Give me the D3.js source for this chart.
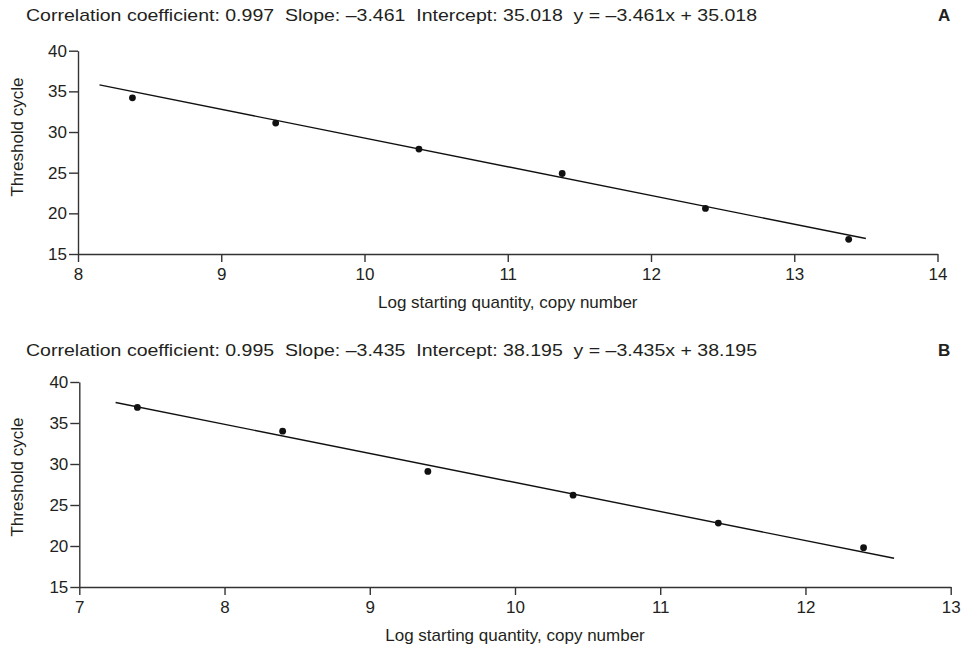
<!DOCTYPE html>
<html>
<head>
<meta charset="utf-8">
<script src="https://cdn.jsdelivr.net/npm/d3@7"></script>
<style>
  body { margin: 0; background: #fff; }
  text { font-family: "Liberation Sans", Arial, sans-serif; fill: #231f20; white-space: pre; }
</style>
</head>
<body>
<div id="main"></div>
<script>
// panel A
const xA = [8.38, 9.38, 10.38, 11.38, 12.38, 13.38];
const yA = [34.2, 31.1, 27.9, 24.9, 20.6, 16.8];
const fitXA = [8.15, 13.5];
const fitYA = [35.8, 16.9];
const ticksXA = [8, 9, 10, 11, 12, 13, 14];
const titleA = "Correlation coefficient: 0.997  Slope: \u20133.461  Intercept: 35.018  y = \u20133.461x + 35.018";

// panel B
const xB = [7.4, 8.4, 9.4, 10.4, 11.4, 12.4];
const yB = [36.9, 34.0, 29.1, 26.2, 22.8, 19.8];
const fitXB = [7.25, 12.61];
const fitYB = [37.5, 18.5];
const ticksXB = [7, 8, 9, 10, 11, 12, 13];
const titleB = "Correlation coefficient: 0.995  Slope: \u20133.435  Intercept: 38.195  y = \u20133.435x + 38.195";

const ticksY = [15, 20, 25, 30, 35, 40];
const xLabel = "Log starting quantity, copy number";
const yLabel = "Threshold cycle";

const svg = d3.select("#main").append("svg")
  .attr("width", 966)
  .attr("height", 650);

function drawPanel(opt) {
  const g = svg.append("g");
  const x = d3.scaleLinear().domain(d3.extent(opt.ticksX)).range([opt.left, opt.right]);
  const y = d3.scaleLinear().domain([15, 40]).range([opt.bottom, opt.top]);

  // title + letter
  g.append("text")
    .attr("x", 26).attr("y", opt.titleY)
    .attr("font-size", 17)
    .attr("textLength", 731).attr("lengthAdjust", "spacingAndGlyphs")
    .text(opt.title);
  g.append("text")
    .attr("x", 938).attr("y", opt.titleY)
    .attr("font-size", 17).attr("font-weight", "bold")
    .text(opt.letter);

  // axes
  const xAxis = g.append("g")
    .attr("transform", `translate(0,${opt.bottom})`)
    .call(d3.axisBottom(x).tickValues(opt.ticksX).tickFormat(d3.format("d"))
      .tickSize(8).tickSizeOuter(0).tickPadding(6));
  const yAxis = g.append("g")
    .attr("transform", `translate(${opt.left},0)`)
    .call(d3.axisLeft(y).tickValues(ticksY).tickFormat(d3.format("d"))
      .tickSize(9).tickSizeOuter(0).tickPadding(2));
  [xAxis, yAxis].forEach(a => {
    a.selectAll("path, line").attr("stroke", "#333").attr("stroke-width", 1.4);
    a.selectAll("text").attr("font-size", 17).attr("font-family", "Liberation Sans, Arial, sans-serif").attr("fill", "#231f20");
  });

  g.append("text")
    .attr("x", (opt.left + opt.right) / 2).attr("y", opt.bottom + 54)
    .attr("text-anchor", "middle").attr("font-size", 17)
    .text(xLabel);
  g.append("text")
    .attr("transform", `translate(23,${opt.labelY}) rotate(-90)`)
    .attr("text-anchor", "middle").attr("font-size", 17)
    .text(yLabel);

  // fitted line
  g.append("line")
    .attr("x1", x(opt.fitX[0])).attr("y1", y(opt.fitY[0]))
    .attr("x2", x(opt.fitX[1])).attr("y2", y(opt.fitY[1]))
    .attr("stroke", "#111").attr("stroke-width", 1.4);

  // points
  g.selectAll("circle.pt")
    .data(opt.xs.map((d, i) => [d, opt.ys[i]]))
    .enter().append("circle")
    .attr("class", "pt")
    .attr("cx", d => x(d[0])).attr("cy", d => y(d[1]))
    .attr("r", 3.4).attr("fill", "#111");
}

drawPanel({ xs: xA, ys: yA, fitX: fitXA, fitY: fitYA, ticksX: ticksXA, title: titleA, letter: "A",
  left: 78, right: 937.5, top: 50.7, bottom: 254, titleY: 21, labelY: 137 });
drawPanel({ xs: xB, ys: yB, fitX: fitXB, fitY: fitYB, ticksX: ticksXB, title: titleB, letter: "B",
  left: 79.3, right: 950.7, top: 382, bottom: 587, titleY: 356, labelY: 477 });
</script>
</body>
</html>
